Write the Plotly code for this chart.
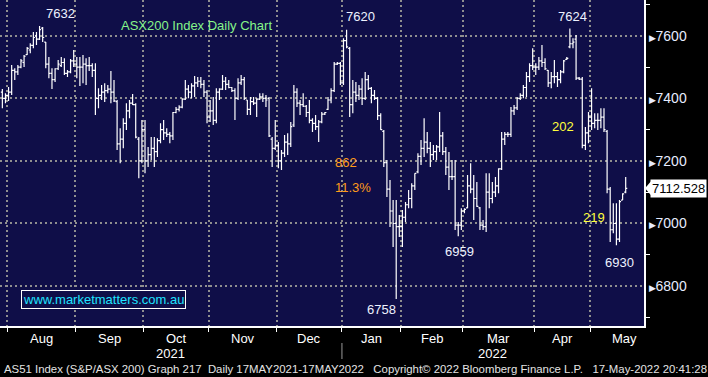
import numpy as np
import pandas as pd
import plotly.graph_objects as go

# ---------------- data (ASX200 daily OHLC) ----------------
opens = [7420, 7400, 7410, 7420, 7490, 7485, 7500, 7515, 7540, 7555,
         7570, 7600, 7590, 7625, 7580, 7510, 7480, 7460, 7495, 7505,
         7515, 7480, 7485, 7520, 7510, 7500, 7500, 7510, 7505, 7505,
         7490, 7400, 7410, 7420, 7425, 7430, 7420, 7390, 7255, 7270,
         7320, 7360, 7385, 7380, 7270, 7200, 7300, 7200, 7220, 7240,
         7230, 7265, 7300, 7290, 7285, 7280, 7355, 7365, 7372, 7398,
         7430, 7420, 7440, 7450, 7455, 7445, 7420, 7340, 7360, 7330,
         7420, 7430, 7455, 7445, 7435, 7425, 7400, 7450, 7460, 7395,
         7365, 7390, 7385, 7398, 7405, 7400, 7400, 7270, 7240, 7250,
         7200, 7225, 7260, 7255, 7315, 7420, 7385, 7380, 7375, 7355,
         7330, 7320, 7310, 7325, 7350, 7365, 7395, 7425, 7510, 7512,
         7450, 7585, 7560, 7380, 7420, 7410, 7430, 7400, 7460, 7432,
         7410, 7400, 7345, 7295, 7195, 7110, 7040, 7000, 6990, 6990,
         7020, 7060, 7080, 7120, 7165, 7215, 7240, 7260, 7240, 7220,
         7230, 7245, 7280, 7230, 7180, 7150, 7150, 6995, 6995, 7040,
         7050, 7120, 7110, 7080, 7050, 6995, 6990, 7100, 7080, 7100,
         7120, 7175, 7270, 7285, 7285, 7360, 7370, 7400, 7410, 7435,
         7470, 7505, 7500, 7500, 7520, 7515, 7490, 7450, 7470, 7470,
         7460, 7485, 7525, 7565, 7575, 7590, 7465, 7462, 7250, 7290,
         7340, 7320, 7330, 7330, 7340, 7295, 7110, 6980, 7000, 6950,
         7075, 7100]
highs = [7430, 7417, 7437, 7507, 7497, 7507, 7526, 7539, 7565, 7577,
         7613, 7613, 7632, 7629, 7581, 7533, 7497, 7497, 7523, 7533,
         7529, 7491, 7526, 7555, 7533, 7533, 7539, 7529, 7533, 7513,
         7513, 7433, 7443, 7449, 7443, 7488, 7459, 7395, 7305, 7337,
         7385, 7395, 7414, 7385, 7277, 7331, 7331, 7245, 7277, 7277,
         7273, 7321, 7331, 7305, 7293, 7357, 7373, 7378, 7401, 7459,
         7443, 7449, 7472, 7469, 7469, 7459, 7427, 7395, 7405, 7433,
         7433, 7475, 7469, 7459, 7437, 7433, 7465, 7475, 7469, 7395,
         7405, 7405, 7401, 7417, 7417, 7411, 7405, 7277, 7331, 7261,
         7235, 7283, 7289, 7325, 7443, 7433, 7395, 7417, 7379, 7395,
         7337, 7347, 7331, 7357, 7357, 7405, 7433, 7517, 7517, 7517,
         7593, 7620, 7565, 7459, 7453, 7443, 7465, 7485, 7475, 7437,
         7427, 7405, 7353, 7299, 7203, 7139, 7075, 7075, 7027, 7043,
         7069, 7107, 7129, 7161, 7225, 7267, 7337, 7293, 7261, 7251,
         7251, 7357, 7293, 7245, 7229, 7203, 7203, 7005, 7049, 7049,
         7155, 7193, 7155, 7133, 7053, 7011, 7161, 7161, 7133, 7149,
         7177, 7293, 7293, 7293, 7373, 7379, 7405, 7417, 7443, 7485,
         7513, 7561, 7513, 7533, 7571, 7529, 7491, 7485, 7523, 7485,
         7491, 7523, 7533, 7624, 7593, 7603, 7469, 7469, 7309, 7357,
         7433, 7353, 7353, 7369, 7369, 7299, 7117, 7065, 7065, 7075,
         7097, 7149]
lows = [7369, 7385, 7392, 7411, 7459, 7475, 7497, 7501, 7539, 7545,
        7561, 7571, 7587, 7581, 7497, 7465, 7430, 7453, 7491, 7501,
        7475, 7469, 7481, 7501, 7465, 7440, 7449, 7443, 7488, 7469,
        7347, 7369, 7395, 7389, 7417, 7385, 7389, 7235, 7193, 7241,
        7299, 7337, 7379, 7273, 7145, 7193, 7161, 7181, 7203, 7181,
        7213, 7257, 7267, 7277, 7257, 7267, 7353, 7358, 7369, 7395,
        7401, 7401, 7405, 7437, 7433, 7405, 7321, 7325, 7315, 7321,
        7395, 7427, 7427, 7433, 7421, 7331, 7395, 7443, 7395, 7347,
        7347, 7379, 7341, 7395, 7389, 7373, 7277, 7181, 7235, 7177,
        7171, 7213, 7219, 7245, 7309, 7373, 7347, 7373, 7341, 7321,
        7293, 7299, 7261, 7321, 7347, 7363, 7385, 7421, 7507, 7443,
        7443, 7561, 7341, 7353, 7389, 7395, 7379, 7395, 7427, 7385,
        7395, 7331, 7299, 7181, 7085, 6989, 6925, 6758, 6957, 6925,
        7005, 7049, 7049, 7107, 7161, 7187, 7213, 7225, 7181, 7203,
        7203, 7229, 7219, 7155, 7107, 7139, 6979, 6959, 6979, 7033,
        7049, 7097, 7011, 7053, 6979, 6979, 6973, 7049, 7065, 7085,
        7097, 7171, 7251, 7277, 7277, 7347, 7363, 7395, 7401, 7405,
        7453, 7491, 7475, 7491, 7501, 7491, 7437, 7433, 7449, 7437,
        7449, 7481, 7523, 7561, 7561, 7459, 7459, 7241, 7235, 7257,
        7299, 7305, 7299, 7305, 7293, 7097, 6941, 6969, 6930, 6941,
        7075, 7097]
closes = [7400, 7410, 7420, 7490, 7485, 7500, 7520, 7535, 7560, 7570,
          7595, 7590, 7620, 7595, 7510, 7480, 7460, 7495, 7510, 7515,
          7480, 7485, 7520, 7510, 7500, 7500, 7510, 7505, 7505, 7490,
          7400, 7410, 7420, 7425, 7430, 7420, 7392, 7255, 7270, 7320,
          7360, 7385, 7380, 7276, 7200, 7300, 7200, 7220, 7240, 7230,
          7265, 7300, 7290, 7285, 7280, 7355, 7365, 7372, 7398, 7430,
          7420, 7440, 7450, 7455, 7445, 7420, 7340, 7360, 7330, 7420,
          7430, 7455, 7445, 7435, 7425, 7400, 7450, 7460, 7400, 7365,
          7390, 7385, 7398, 7405, 7400, 7395, 7280, 7240, 7250, 7200,
          7225, 7260, 7255, 7310, 7420, 7385, 7380, 7375, 7355, 7330,
          7320, 7310, 7325, 7350, 7355, 7395, 7425, 7510, 7512, 7450,
          7585, 7565, 7380, 7420, 7410, 7430, 7400, 7460, 7432, 7410,
          7400, 7345, 7300, 7195, 7110, 7040, 7000, 6990, 6990, 7020,
          7060, 7080, 7120, 7160, 7215, 7240, 7260, 7240, 7220, 7230,
          7245, 7280, 7230, 7180, 7150, 7150, 6995, 6995, 7040, 7045,
          7120, 7110, 7080, 7055, 6995, 6990, 7100, 7080, 7100, 7120,
          7175, 7270, 7285, 7285, 7360, 7370, 7400, 7410, 7435, 7470,
          7505, 7500, 7500, 7520, 7515, 7495, 7450, 7470, 7470, 7460,
          7485, 7520, 7528, 7575, 7580, 7465, 7462, 7250, 7290, 7340,
          7320, 7330, 7330, 7340, 7300, 7110, 6980, 7000, 6950, 7070,
          7095, 7112.528]

holidays = ["2021-12-27", "2021-12-28", "2022-01-03", "2022-01-26",
            "2022-04-15", "2022-04-18", "2022-04-25"]
month_names = ["Jan", "Feb", "Mar", "Apr", "May", "Jun", "Jul", "Aug",
               "Sep", "Oct", "Nov", "Dec"]
y_ticks = [6800, 7000, 7200, 7400, 7600]

# ---------------- trading calendar ----------------
all_days = [d for d in pd.bdate_range("2021-07-29", "2022-05-31")
            if d.strftime("%Y-%m-%d") not in holidays]
dates = [d for d in all_days if d <= pd.Timestamp("2022-05-17")]
n = min(len(dates), len(closes))
xi = np.arange(n)

months = {}
for i, d in enumerate(all_days):
    months.setdefault(d.strftime("%Y-%m"), []).append(i)
bounds, centres, mlabels = [], [], []
jan_boundary = None
for key, idx in months.items():
    b = idx[0] - 0.5
    if idx[0] > 0:
        bounds.append(b)
    if len(idx) >= 10:
        centres.append(b + len(idx) / 2.0)
        mlabels.append(month_names[int(key[5:]) - 1])
    if key == "2022-01":
        jan_boundary = b

x_range = [-0.76, 206.9]
y_range = [6672, 7715]

NAVY = "#0f0e48"
GRID = "#8f8f8f"
FONT = "Liberation Sans, Arial, sans-serif"

fig = go.Figure()
fig.add_trace(go.Ohlc(
    x=xi, open=opens[:n], high=highs[:n], low=lows[:n], close=closes[:n],
    increasing=dict(line=dict(color="white", width=1.2)),
    decreasing=dict(line=dict(color="white", width=1.2)),
    tickwidth=0.5, hoverinfo="skip", showlegend=False))

ann = []
label_col = "#eef2ff"
for c, t in zip(centres, mlabels):
    ann.append(dict(x=c, xref="x", y=0, yref="paper", yanchor="top", yshift=-3,
                    text=t, showarrow=False,
                    font=dict(family=FONT, size=13, color="white")))
ann.append(dict(x=(x_range[0] + jan_boundary) / 2, xref="x", y=0, yref="paper",
                yanchor="top", yshift=-18, text="2021", showarrow=False,
                font=dict(family=FONT, size=13, color="white")))
ann.append(dict(x=(jan_boundary + x_range[1]) / 2, xref="x", y=0, yref="paper",
                yanchor="top", yshift=-18, text="2022", showarrow=False,
                font=dict(family=FONT, size=13, color="white")))

H = np.array(highs[:n]); L = np.array(lows[:n])
def rng(a, b):
    return np.array([i for i, d in enumerate(dates[:n])
                     if pd.Timestamp(a) <= d <= pd.Timestamp(b)])
def peak(a, b):
    s = rng(a, b); k = s[np.argmax(H[s])]; return k, H[k]
def trough(a, b):
    s = rng(a, b); k = s[np.argmin(L[s])]; return k, L[k]

k, v = peak("2021-08-01", "2021-08-31")
ann.append(dict(x=k, y=v, text=f"{v:.0f}", showarrow=False, xanchor="left",
                yanchor="bottom", xshift=4, yshift=3,
                font=dict(family=FONT, size=13, color=label_col)))
kj, vj = peak("2022-01-01", "2022-01-31")
ann.append(dict(x=kj, y=vj, text=f"{vj:.0f}", showarrow=False, xanchor="left",
                yanchor="bottom", xshift=-3, yshift=4,
                font=dict(family=FONT, size=13, color=label_col)))
k, v = peak("2022-04-01", "2022-04-30")
ann.append(dict(x=k, y=v, text=f"{v:.0f}", showarrow=False, xanchor="center",
                yanchor="bottom", xshift=3, yshift=2,
                font=dict(family=FONT, size=13, color=label_col)))
kl, vl = trough("2022-01-01", "2022-01-31")
ann.append(dict(x=kl, y=vl, text=f"{vl:.0f}", showarrow=False, xanchor="right",
                yanchor="top", xshift=2, yshift=-1,
                font=dict(family=FONT, size=13, color=label_col)))
k, v = trough("2022-02-15", "2022-03-31")
ann.append(dict(x=k, y=v, text=f"{v:.0f}", showarrow=False, xanchor="center",
                yanchor="top", xshift=1, yshift=-6,
                font=dict(family=FONT, size=13, color=label_col)))
k, v = trough("2022-05-01", "2022-05-31")
ann.append(dict(x=k, y=v, text=f"{v:.0f}", showarrow=False, xanchor="center",
                yanchor="top", xshift=3, yshift=-8,
                font=dict(family=FONT, size=13, color=label_col)))

drop = vj - vl
ORANGE = "#ff9c1a"; YELLOW = "#ffff3c"
ann.append(dict(x=333 / 644, y=1 - 162 / 326, xref="paper", yref="paper",
                xanchor="left", yanchor="middle", text=f"{drop:.0f}", showarrow=False,
                font=dict(family=FONT, size=13, color=ORANGE)))
ann.append(dict(x=333 / 644, y=1 - 187 / 326, xref="paper", yref="paper",
                xanchor="left", yanchor="middle", text=f"{drop / vj * 100:.1f}%",
                showarrow=False, font=dict(family=FONT, size=13, color=ORANGE)))
ann.append(dict(x=550 / 644, y=1 - 127 / 326, xref="paper", yref="paper",
                xanchor="left", yanchor="middle", text="202", showarrow=False,
                font=dict(family=FONT, size=13, color=YELLOW)))
ann.append(dict(x=581 / 644, y=1 - 217 / 326, xref="paper", yref="paper",
                xanchor="left", yanchor="middle", text="219", showarrow=False,
                font=dict(family=FONT, size=13, color=YELLOW)))

ann.append(dict(x=196 / 644, y=1 - 26 / 326, xref="paper", yref="paper",
                xanchor="center", yanchor="middle", text="ASX200 Index Daily Chart",
                showarrow=False, font=dict(family=FONT, size=13, color="#86f58a")))
ann.append(dict(x=103 / 644, y=1 - 299 / 326, xref="paper", yref="paper",
                xanchor="center", yanchor="middle", text="www.marketmatters.com.au",
                showarrow=False, bordercolor="white", borderwidth=1, borderpad=1,
                bgcolor=NAVY, font=dict(family=FONT, size=13, color="#1fe3ff")))
last = closes[n - 1]
ann.append(dict(x=1, xref="paper", y=last, yref="y", xanchor="left", yanchor="middle",
                xshift=6, text=f"{last:.3f}", showarrow=False, bgcolor="white",
                borderpad=1, font=dict(family=FONT, size=13, color="black")))
NB = "\u00a0"
footer = ("AS51 Index (S&P/ASX 200) Graph 217" + NB * 2 +
          "Daily 17MAY2021-17MAY2022" + NB * 3 +
          "Copyright\u00a9 2022 Bloomberg Finance L.P." + NB * 3 +
          "17-May-2022 20:41:28")
ann.append(dict(x=2 / 644, y=-(369 - 326) / 326, xref="paper", yref="paper",
                xanchor="left", yanchor="middle", text=footer, showarrow=False,
                font=dict(family=FONT, size=11.4, color="#e4e4e4")))

shapes = [
    dict(type="line", xref="x", yref="paper", x0=jan_boundary, x1=jan_boundary,
         y0=-(343 - 326) / 326, y1=-(359 - 326) / 326,
         line=dict(color="#9a9a9a", width=1)),
    dict(type="path", xref="paper", yref="y", xsizemode="pixel", ysizemode="pixel",
         xanchor=1, yanchor=last, path="M 1 0 L 7 7 L 7 -7 Z",
         fillcolor="white", line=dict(width=0)),
]

ytext = ['<span style="font-size:9px">\u25b6</span>' + str(v) for v in y_ticks]

fig.update_layout(
    width=708, height=377,
    margin=dict(l=0, r=64, t=0, b=51),
    paper_bgcolor="black", plot_bgcolor=NAVY,
    showlegend=False,
    annotations=ann, shapes=shapes,
    xaxis=dict(range=x_range, tickmode="array", tickvals=bounds, showticklabels=False,
               ticks="outside", ticklen=4, tickcolor="white", tickwidth=1,
               showgrid=True, gridcolor=GRID, gridwidth=2, griddash="2px,3px",
               showline=True, linecolor="white", linewidth=1.5, zeroline=False,
               rangeslider=dict(visible=False), fixedrange=True),
    yaxis=dict(range=y_range, side="right", tickmode="array", tickvals=y_ticks,
               ticktext=ytext, ticks="", showgrid=True, gridcolor=GRID, gridwidth=2,
               griddash="2px,3px", showline=True, linecolor="white", linewidth=1.5,
               zeroline=False, tickfont=dict(family=FONT, size=14, color="#e6ecff"),
               minor=dict(tickmode="linear", tick0=6700, dtick=200, ticks="outside",
                          ticklen=4, tickcolor="white", showgrid=False),
               fixedrange=True),
)

fig.write_html("out.html",
               config={"displayModeBar": False},
               post_script="document.body.style.margin='0px';"
                           "document.body.style.background='black';")
